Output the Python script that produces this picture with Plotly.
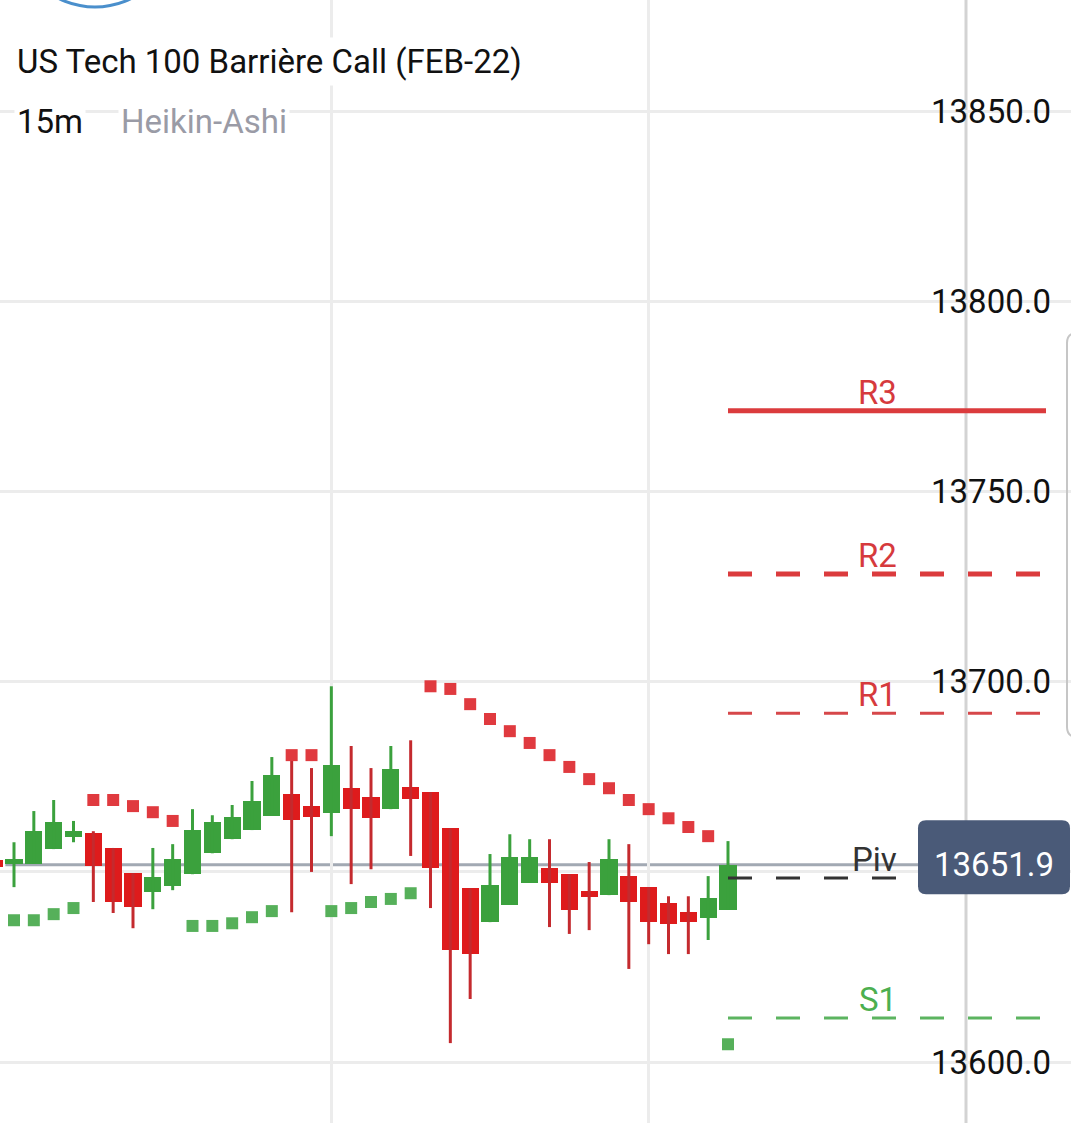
import plotly.graph_objects as go

# ---------------- data ----------------
title = "US Tech 100 Barrière Call (FEB-22)"
interval = "15m"
chart_type = "Heikin-Ashi"

# Heikin-Ashi candles (first one only partly visible at the left edge)
opens = [13653.1, 13652.1, 13652.1, 13656.0, 13659.2, 13660.2, 13656.3, 13649.7, 13644.7, 13646.3,
         13649.4, 13654.9, 13658.6, 13661.0, 13664.7, 13670.5, 13667.3, 13665.5, 13672.0, 13669.7,
         13666.5, 13672.3, 13671.0, 13661.5, 13645.7, 13636.8, 13641.3, 13647.1, 13651.0, 13649.4,
         13645.0, 13643.9, 13648.9, 13646.0, 13641.8, 13639.4, 13637.9, 13640.0]
closes = [13651.2, 13653.4, 13660.7, 13663.1, 13660.7, 13651.5, 13642.1, 13640.7, 13648.6, 13653.4,
          13661.0, 13663.1, 13664.4, 13668.6, 13675.4, 13663.6, 13664.4, 13678.1, 13666.5, 13664.1,
          13677.0, 13669.1, 13651.0, 13629.4, 13628.4, 13646.5, 13653.9, 13653.9, 13647.1, 13640.0,
          13643.4, 13653.4, 13642.1, 13636.8, 13636.3, 13636.8, 13643.1, 13651.9]
highs = [13653.1, 13657.8, 13666.0, 13668.9, 13663.4, 13660.7, 13656.3, 13649.7, 13656.3, 13657.3,
         13666.5, 13664.9, 13667.6, 13673.9, 13680.2, 13679.4, 13677.3, 13698.8, 13683.1, 13677.3,
         13683.1, 13684.6, 13671.0, 13661.5, 13645.7, 13654.7, 13659.9, 13658.6, 13658.6, 13649.4,
         13652.6, 13658.6, 13657.3, 13646.0, 13643.6, 13643.6, 13648.9, 13658.1]
lows = [13651.2, 13646.0, 13652.1, 13656.0, 13657.8, 13642.1, 13639.2, 13635.2, 13640.2, 13645.2,
        13649.4, 13654.9, 13658.6, 13661.0, 13664.7, 13639.4, 13650.0, 13659.4, 13646.8, 13650.7,
        13666.5, 13654.2, 13640.5, 13605.0, 13616.6, 13636.8, 13641.3, 13647.1, 13635.5, 13633.7,
        13634.7, 13643.9, 13624.5, 13631.0, 13628.4, 13628.4, 13632.1, 13640.0]
# Parabolic SAR
sar = [None, 13637.3, 13637.3, 13638.9, 13640.5, 13668.9, 13668.9, 13667.3, 13665.7, 13663.4,
       13635.8, 13635.8, 13636.5, 13638.1, 13639.7, 13680.7, 13680.7, 13639.7, 13640.5, 13642.1,
       13642.9, 13644.4, 13698.8, 13698.1, 13694.1, 13690.2, 13687.0, 13683.9, 13680.7, 13677.6,
       13674.4, 13672.0, 13668.9, 13666.5, 13664.1, 13661.8, 13659.4, 13604.7]

pivot_names = ["R3", "R2", "R1", "Piv", "S1"]
pivot_values = [13771.2, 13728.3, 13691.7, 13648.4, 13611.6]
last_price = 13651.9
y_ticks = [13600, 13650, 13700, 13750, 13800, 13850]

# ---------------- styling ----------------
W, H = 1071, 1123
GREEN = "#3ba13d"
RED = "#de1b1c"
RED_WICK = "#c42a2e"
SAR_RED = "#e03a3f"
SAR_GREEN = "#56b05a"
GRID = "#ececec"
FONT = "Roboto"
FS = 33

x = list(range(len(opens)))
is_up = [c >= o for o, c in zip(opens, closes)]

fig = go.Figure()

# wicks
for up, color in [(True, GREEN), (False, RED_WICK)]:
    wx, wy = [], []
    for i in x:
        if is_up[i] == up:
            wx += [i, i, None]
            wy += [lows[i], highs[i], None]
    fig.add_trace(go.Scatter(x=wx, y=wy, mode="lines", line=dict(color=color, width=3),
                             hoverinfo="skip", showlegend=False))

# bodies
fig.add_trace(go.Bar(
    x=x,
    base=[min(o, c) for o, c in zip(opens, closes)],
    y=[max(abs(c - o), 0.3) for o, c in zip(opens, closes)],
    width=0.86,
    marker=dict(color=[GREEN if u else RED for u in is_up], line=dict(width=0)),
    showlegend=False,
))

# SAR dots
sar_red_x = [i for i in x if sar[i] is not None and sar[i] > closes[i]]
sar_green_x = [i for i in x if sar[i] is not None and sar[i] <= closes[i]]
fig.add_trace(go.Scatter(x=sar_red_x, y=[sar[i] for i in sar_red_x], mode="markers",
                         marker=dict(symbol="square", size=12, color=SAR_RED, line=dict(width=0)),
                         showlegend=False))
fig.add_trace(go.Scatter(x=sar_green_x, y=[sar[i] for i in sar_green_x], mode="markers",
                         marker=dict(symbol="square", size=12, color=SAR_GREEN, line=dict(width=0)),
                         showlegend=False))

# pixel <-> index helpers for axis range (candle spacing)
px0, step = 14.0, (728.0 - 14.0) / 36.0
def px_to_idx(px):
    return 1 + (px - px0) / step

ymin, ymax = 13584.0, 13879.2
units_per_px = (ymax - ymin) / H

shapes = []
annotations = []

# darker vertical separator line
shapes.append(dict(type="line", xref="x", yref="paper", x0=49, x1=49, y0=0, y1=1,
                   line=dict(color="#d3d3d3", width=3), layer="below"))

# current price line
shapes.append(dict(type="line", xref="paper", yref="y", x0=0.005, x1=918 / W,
                   y0=last_price, y1=last_price, line=dict(color="#a2a9b3", width=3), layer="below"))

# pivot lines
last_idx = x[-1]
piv_styles = {
    "R3": dict(color="#db3b3d", width=5, dash="solid"),
    "R2": dict(color="#db3b3d", width=5, dash="24px,24px"),
    "R1": dict(color="#d6474a", width=3, dash="24px,24px"),
    "Piv": dict(color="#333333", width=3, dash="24px,24px"),
    "S1": dict(color="#5cb460", width=3, dash="24px,24px"),
}
label_colors = {"R3": "#d63a3d", "R2": "#d63a3d", "R1": "#d63a3d", "Piv": "#333333", "S1": "#4caf50"}
for name, val in zip(pivot_names, pivot_values):
    x1 = px_to_idx(897) if name == "Piv" else px_to_idx(1046)
    shapes.append(dict(type="line", xref="x", yref="y", x0=last_idx, x1=x1, y0=val, y1=val,
                       line=piv_styles[name], layer="above"))
    annotations.append(dict(x=px_to_idx(899), y=val, xref="x", yref="y", text=name,
                            showarrow=False, xanchor="right", yanchor="bottom", yshift=-3,
                            font=dict(family=FONT, size=FS, color=label_colors[name])))

# price tag (rounded rectangle)
tx0, tx1 = 918 / W, 1070 / W
yt = last_price + (863.4 - 819) * units_per_px
yb = last_price - (893 - 863.4) * units_per_px
rx, ry = 8 / W, 8 * units_per_px
path = (f"M {tx0+rx},{yt} L {tx1-rx},{yt} Q {tx1},{yt} {tx1},{yt-ry} "
        f"L {tx1},{yb+ry} Q {tx1},{yb} {tx1-rx},{yb} L {tx0+rx},{yb} "
        f"Q {tx0},{yb} {tx0},{yb+ry} L {tx0},{yt-ry} Q {tx0},{yt} {tx0+rx},{yt} Z")
shapes.append(dict(type="path", xref="paper", yref="y", path=path,
                   fillcolor="#4a5a78", line=dict(width=0), layer="above"))
annotations.append(dict(x=(tx0 + tx1) / 2 + 0 / W, y=last_price, xref="paper", yref="y",
                        text=f"{last_price:.1f}", showarrow=False, xanchor="center", yanchor="middle",
                        font=dict(family=FONT, size=FS, color="white")))

# blue circle partly visible at the top
shapes.append(dict(type="circle", xref="paper", yref="paper",
                   x0=14 / W, x1=176 / W, y0=1 - 7 / H, y1=1 + 155 / H,
                   line=dict(color="#4a8fcc", width=3)))

# right edge panel outline
def P(px, py):
    return f"{px / W},{1 - py / H}"
panel = (f"M {P(1085, 333)} L {P(1077, 333)} Q {P(1067, 333)} {P(1067, 343)} "
         f"L {P(1067, 727)} Q {P(1067, 737)} {P(1077, 737)} L {P(1085, 737)}")
shapes.append(dict(type="path", xref="paper", yref="paper", path=panel,
                   line=dict(color="#c6c6c6", width=2)))

# header texts
annotations.append(dict(x=12 / W, y=1 - 62 / H, xref="paper", yref="paper", text=title,
                        showarrow=False, xanchor="left", yanchor="middle", bgcolor="white",
                        borderpad=4, font=dict(family=FONT, size=FS, color="#111111")))
annotations.append(dict(x=14 / W, y=1 - 121 / H, xref="paper", yref="paper", text=interval,
                        showarrow=False, xanchor="left", yanchor="middle", bgcolor="white",
                        borderpad=2, font=dict(family=FONT, size=FS, color="#111111")))
annotations.append(dict(x=118 / W, y=1 - 121 / H, xref="paper", yref="paper", text=chart_type,
                        showarrow=False, xanchor="left", yanchor="middle", bgcolor="white",
                        borderpad=2, font=dict(family=FONT, size=FS, color="#9a9ba6")))

fig.update_layout(
    width=W, height=H, autosize=False,
    margin=dict(l=0, r=0, t=0, b=0, pad=0),
    paper_bgcolor="white", plot_bgcolor="white",
    showlegend=False, bargap=0,
    shapes=shapes, annotations=annotations,
    xaxis=dict(range=[px_to_idx(0), px_to_idx(W)], showticklabels=False, ticks="",
               tickvals=[17, 33], showgrid=True, gridcolor=GRID, gridwidth=3,
               zeroline=False, showline=False, fixedrange=True),
    yaxis=dict(range=[ymin, ymax], side="right", ticklabelposition="inside", ticks="",
               tickvals=y_ticks,
               ticktext=["" if v == 13650 else f"{v:.1f}" for v in y_ticks],
               ticklabelstandoff=17,
               showgrid=True, gridcolor=GRID, gridwidth=3, zeroline=False, showline=False,
               tickfont=dict(family=FONT, size=FS, color="#111111"), fixedrange=True),
)

fig.write_html("out.html", config={"displayModeBar": False},
               post_script="document.body.style.margin='0';document.body.style.overflow='hidden';")
